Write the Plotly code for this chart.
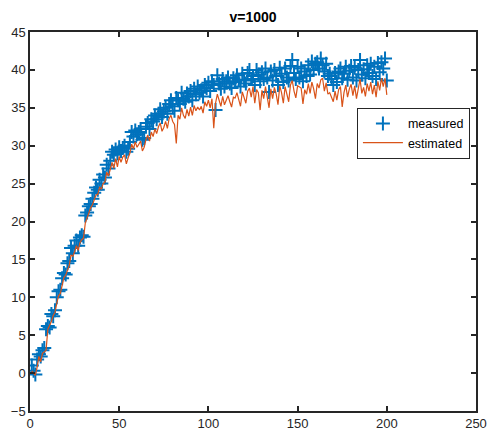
import plotly.graph_objects as go

x_vals = list(range(1, 201))

measured = [
    1.0, 0.3, -0.2, 1.8, 2.5, 2.2, 3.0, 3.3, 5.8, 6.2,
    6.0, 7.8, 7.5, 8.3, 10.0, 10.8, 11.0, 12.5, 13.2, 13.0,
    14.5, 14.8, 16.5, 15.8, 16.8, 17.5, 16.8, 17.9, 18.2, 18.0,
    20.8, 21.2, 22.0, 22.3, 23.0, 23.8, 24.5, 24.2, 25.5, 25.0,
    26.2, 25.8, 27.5, 27.0, 28.0, 29.2, 28.8, 29.5, 29.0, 29.8,
    29.3, 29.7, 30.0, 29.2, 29.6, 30.5, 31.8, 31.2, 32.0, 31.5,
    31.8, 32.2, 30.8, 31.0, 32.5, 33.0, 32.2, 33.5, 33.2, 34.0,
    33.5, 34.2, 34.8, 33.8, 34.5, 35.0, 34.2, 35.5, 36.0, 35.2,
    34.6, 36.3, 36.0, 35.5, 37.0, 36.2, 35.8, 36.9, 36.5, 37.2,
    36.0, 37.5, 36.8, 37.8, 37.0, 37.3, 36.5, 38.0, 37.6, 38.3,
    37.2, 38.5, 38.0, 34.7, 39.3, 38.2, 37.5, 38.8, 37.8, 38.5,
    39.0, 38.2, 37.6, 38.9, 38.4, 39.3, 38.7, 37.8, 39.5, 38.6,
    38.2, 39.6, 40.0, 38.8, 39.2, 38.0, 40.0, 39.4, 38.5, 39.7,
    38.8, 40.2, 39.0, 37.1, 39.8, 38.6, 40.0, 39.2, 38.0, 40.3,
    39.5, 38.4, 40.2, 39.0, 38.6, 40.5, 41.3, 39.6, 38.8, 40.4,
    39.0, 40.2, 38.5, 39.8, 39.2, 40.6, 39.4, 41.1, 40.0, 40.8,
    41.0, 40.2, 41.5, 40.6, 39.8, 40.8, 39.2, 39.5, 38.8, 38.0,
    39.6, 38.4, 39.8, 40.2, 38.9, 39.5, 40.4, 38.7, 39.9, 40.5,
    39.0, 40.3, 38.6, 40.0, 41.3, 39.4, 40.1, 38.9, 40.6, 39.6,
    40.8, 39.2, 40.4, 38.8, 40.9, 39.7, 41.0, 40.2, 41.5, 38.6,
]

estimated = [
    0.3, 0.0, -0.3, 0.8, 2.2, 1.5, 2.6, 2.8, 3.0, 5.8,
    6.2, 6.8, 7.6, 8.0, 9.2, 10.2, 10.5, 11.8, 12.6, 12.9,
    13.5, 14.2, 15.6, 15.4, 16.0, 16.8, 16.2, 17.2, 17.6, 17.8,
    19.8, 20.5, 21.0, 21.8, 22.2, 22.8, 23.5, 23.6, 24.5, 24.3,
    25.0, 25.2, 26.5, 26.0, 26.8, 27.8, 27.0, 28.3, 27.2, 28.6,
    27.8, 28.5, 28.8, 27.6, 28.4, 29.0, 30.2, 29.6, 30.5, 29.8,
    30.2, 30.6, 29.3, 29.8, 30.8, 31.4, 30.6, 31.8, 31.2, 32.2,
    31.6, 32.5, 33.0, 31.9, 32.4, 33.2, 32.3, 33.6, 34.0, 33.2,
    32.8, 30.3, 34.0, 33.5, 35.0, 34.0, 33.6, 34.8, 33.9, 35.1,
    34.0, 35.3, 34.6, 35.1, 34.7, 35.2, 34.3, 35.8, 35.2, 36.0,
    35.0, 36.2, 32.3, 35.6, 36.8, 35.9, 35.2, 36.5, 35.4, 36.0,
    36.6, 35.8, 35.1, 36.4, 36.3, 37.0, 36.2, 35.2, 37.1, 36.4,
    35.6, 37.2, 37.6, 36.4, 37.8, 35.6, 37.4, 37.0, 34.7, 37.3,
    36.2, 37.8, 36.6, 35.0, 37.5, 36.2, 37.7, 36.8, 35.4, 37.9,
    37.0, 35.6, 37.8, 36.6, 35.8, 38.0, 38.6, 37.2, 36.3, 37.9,
    37.8, 37.6, 35.5, 37.4, 36.8, 38.2, 36.9, 38.4, 37.5, 36.2,
    38.2, 37.6, 38.7, 38.9, 37.2, 38.3, 36.8, 37.0, 36.4, 35.8,
    37.2, 36.0, 37.4, 37.8, 35.1, 37.0, 38.0, 36.4, 37.5, 38.1,
    36.6, 37.9, 36.2, 37.6, 38.8, 36.9, 37.7, 36.5, 38.2, 37.2,
    38.4, 36.8, 38.0, 36.4, 38.5, 37.3, 38.9, 37.8, 38.9, 36.7,
]

x_ticks = [0, 50, 100, 150, 200, 250]
y_ticks = [-5, 0, 5, 10, 15, 20, 25, 30, 35, 40, 45]

FONT = "Liberation Sans, Arial, Helvetica, sans-serif"
AX = "#262626"

fig = go.Figure()
fig.add_trace(go.Scatter(
    x=x_vals, y=measured, mode="markers", name="measured",
    marker=dict(symbol="cross-thin", size=10, color="#0072BD",
                line=dict(color="#0072BD", width=2)),
))
fig.add_trace(go.Scatter(
    x=x_vals, y=estimated, mode="lines", name="estimated",
    line=dict(color="#D95319", width=1.2),
))

axis_common = dict(
    showgrid=False, zeroline=False, showline=True, mirror="ticks",
    linecolor=AX, linewidth=1.5, ticks="inside", ticklen=5,
    tickcolor=AX, tickwidth=1.5, automargin=False,
    tickfont=dict(family=FONT, size=13, color=AX),
)

fig.update_layout(
    width=491, height=437,
    margin=dict(l=30, r=15, t=32, b=26),
    paper_bgcolor="white", plot_bgcolor="white",
    title=dict(text="<b>v=1000</b>", x=0.5, xanchor="center", xref="paper",
               y=1 - 17 / 437, yanchor="middle",
               font=dict(family=FONT, size=14, color="black")),
    xaxis=dict(range=[0, 250], tickvals=x_ticks, **axis_common),
    yaxis=dict(range=[-5, 45], tickvals=y_ticks, **axis_common),
    legend=dict(x=0.733, y=0.80, xanchor="left", yanchor="top",
                bgcolor="white", bordercolor=AX, borderwidth=1,
                font=dict(family=FONT, size=12.5, color="black"),
                tracegroupgap=0, itemwidth=40),
    showlegend=True,
)

fig.write_html("out.html")
